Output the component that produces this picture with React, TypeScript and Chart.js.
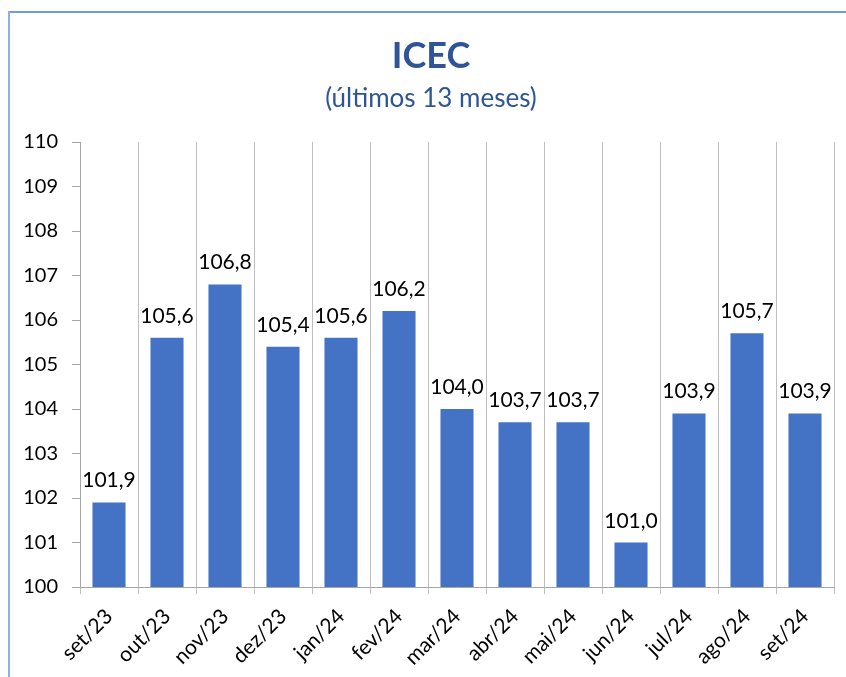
import React, { useEffect, useRef } from "react";
import { Chart, registerables } from "chart.js";

Chart.register(...registerables);

const categories = ["set/23", "out/23", "nov/23", "dez/23", "jan/24", "fev/24", "mar/24", "abr/24", "mai/24", "jun/24", "jul/24", "ago/24", "set/24"];
const values = [101.9, 105.6, 106.8, 105.4, 105.6, 106.2, 104.0, 103.7, 103.7, 101.0, 103.9, 105.7, 103.9];
const titleText = "ICEC";
const subtitleText = "(últimos 13 meses)";
const yMin = 100;
const yMax = 110;

const FONT = "Lato, 'Open Sans', sans-serif";
const TITLE_COLOR = "#2F5597";

const dataLabels = {
  id: "dataLabels",
  afterDatasetsDraw(chart: any) {
    const ctx = chart.ctx;
    const meta = chart.getDatasetMeta(0);
    ctx.save();
    ctx.font = `21px ${FONT}`;
    ctx.fillStyle = "#000000";
    ctx.textAlign = "center";
    ctx.textBaseline = "alphabetic";
    meta.data.forEach((bar: any, i: number) => {
      const v = values[i];
      ctx.fillText(v.toFixed(1).replace(".", ","), bar.x, bar.y - 15);
    });
    ctx.restore();
  },
};

const titles = {
  id: "titles",
  afterDraw(chart: any) {
    const ctx = chart.ctx;
    const cx = (chart.chartArea.left + chart.chartArea.right) / 2 - 26;
    ctx.save();
    ctx.fillStyle = TITLE_COLOR;
    ctx.textAlign = "center";
    ctx.textBaseline = "middle";
    ctx.font = `bold 36px ${FONT}`;
    ctx.fillText(titleText, cx, 56.6);
    ctx.font = `26px ${FONT}`;
    ctx.fillText(subtitleText, cx, 98.8);
    ctx.restore();
  },
};

export default function App() {
  const ref = useRef<HTMLCanvasElement | null>(null);
  useEffect(() => {
    if (!ref.current) return;
    const chart = new Chart(ref.current, {
      type: "bar",
      data: {
        labels: categories,
        datasets: [
          {
            data: values,
            backgroundColor: "#4472C4",
            borderWidth: 0,
            barPercentage: 0.57,
            categoryPercentage: 1,
          },
        ],
      },
      options: {
        animation: false,
        responsive: false,
        maintainAspectRatio: false,
        layout: { padding: { left: 0, right: 12, top: 142, bottom: 0 } },
        plugins: {
          legend: { display: false },
          tooltip: { enabled: false },
          title: { display: false },
          subtitle: { display: false },
        },
        scales: {
          x: {
            offset: true,
            grid: {
              offset: true,
              display: true,
              drawOnChartArea: true,
              drawTicks: true,
              tickLength: 7,
              color: "#BFBFBF",
              lineWidth: 1,
            },
            border: { display: true, color: "#A6A6A6", width: 1 },
            ticks: {
              color: "#000000",
              font: { family: FONT, size: 21 },
              minRotation: 45,
              maxRotation: 45,
              padding: 10,
            },
            afterFit(scale: any) {
              scale.height = 90;
            },
          },
          y: {
            min: yMin,
            max: yMax,
            grid: {
              display: true,
              drawOnChartArea: false,
              drawTicks: true,
              tickLength: 8,
              color: "#A6A6A6",
            },
            border: { display: true, color: "#A6A6A6", width: 1 },
            ticks: {
              stepSize: 1,
              color: "#000000",
              font: { family: FONT, size: 20 },
              padding: 14,
            },
            afterFit(scale: any) {
              scale.width = 80;
            },
          },
        },
      },
      plugins: [dataLabels, titles],
    });
    return () => chart.destroy();
  }, []);

  return (
    <div style={{ position: "fixed", left: 0, top: 0, width: 846, height: 677, background: "#ffffff" }}>
      <canvas ref={ref} width={846} height={677} style={{ position: "absolute", left: 0, top: 0, width: 846, height: 677 }} />
      <div style={{ position: "absolute", left: 8, top: 11, width: 838, height: 2, background: "#6F9BE0" }} />
      <div style={{ position: "absolute", left: 8, top: 11, width: 1.5, height: 666, background: "#8DB0E8" }} />
    </div>
  );
}
